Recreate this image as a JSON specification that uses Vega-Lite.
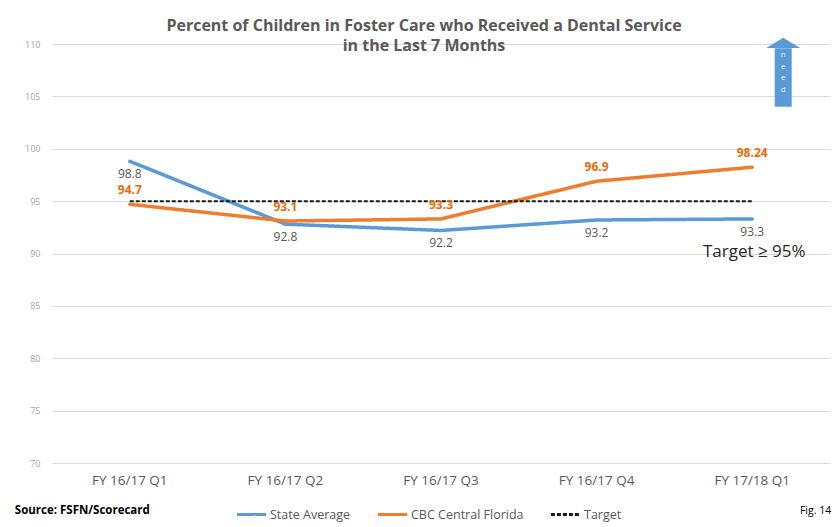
{
  "$schema": "https://vega.github.io/schema/vega-lite/v6.json",
  "width": 778,
  "height": 419,
  "autosize": {"type": "none"},
  "padding": {"left": 52, "top": 44, "right": 8, "bottom": 64},
  "background": "white",
  "config": {
    "font": "Open Sans",
    "view": {"stroke": null},
    "axis": {"labelFont": "Open Sans"},
    "legend": {"labelFont": "Open Sans"}
  },
  "title": {
    "text": ["Percent of Children in Foster Care who Received a Dental Service", "in the Last 7 Months"],
    "font": "Open Sans",
    "fontSize": 16,
    "fontWeight": "bold",
    "color": "#595959",
    "anchor": "middle",
    "frame": "group",
    "offset": -16,
    "lineHeight": 20,
    "dx": -17
  },
  "data": {
    "values": [
      {"q": "FY 16/17 Q1", "series": "State Average", "v": 98.8},
      {"q": "FY 16/17 Q2", "series": "State Average", "v": 92.8},
      {"q": "FY 16/17 Q3", "series": "State Average", "v": 92.2},
      {"q": "FY 16/17 Q4", "series": "State Average", "v": 93.2},
      {"q": "FY 17/18 Q1", "series": "State Average", "v": 93.3},
      {"q": "FY 16/17 Q1", "series": "CBC Central Florida", "v": 94.7},
      {"q": "FY 16/17 Q2", "series": "CBC Central Florida", "v": 93.1},
      {"q": "FY 16/17 Q3", "series": "CBC Central Florida", "v": 93.3},
      {"q": "FY 16/17 Q4", "series": "CBC Central Florida", "v": 96.9},
      {"q": "FY 17/18 Q1", "series": "CBC Central Florida", "v": 98.24},
      {"q": "FY 16/17 Q1", "series": "Target", "v": 95},
      {"q": "FY 16/17 Q2", "series": "Target", "v": 95},
      {"q": "FY 16/17 Q3", "series": "Target", "v": 95},
      {"q": "FY 16/17 Q4", "series": "Target", "v": 95},
      {"q": "FY 17/18 Q1", "series": "Target", "v": 95}
    ]
  },
  "encoding": {
    "x": {
      "field": "q",
      "type": "nominal",
      "sort": null,
      "title": null,
      "scale": {"paddingInner": 0, "paddingOuter": 0},
      "axis": {
        "labelAngle": 0,
        "labelFontSize": 13.5,
        "labelColor": "#595959",
        "labelPadding": 10,
        "ticks": false,
        "domain": false,
        "grid": false
      }
    },
    "y": {
      "field": "v",
      "type": "quantitative",
      "title": null,
      "scale": {"domain": [70, 110], "nice": false, "zero": false},
      "axis": {
        "values": [70, 75, 80, 85, 90, 95, 100, 105, 110],
        "labelFontSize": 9,
        "labelColor": "#A6A6A6",
        "labelPadding": 12,
        "ticks": false,
        "domain": false,
        "gridColor": "#D9D9D9",
        "gridWidth": 1
      }
    }
  },
  "layer": [
    {
      "transform": [{"filter": "datum.series !== 'Target'"}],
      "mark": {"type": "line", "strokeWidth": 3.5, "strokeCap": "round"},
      "encoding": {
        "color": {
          "field": "series",
          "type": "nominal",
          "title": null,
          "scale": {"domain": ["State Average", "CBC Central Florida", "Target"], "range": ["#5B9BD5", "#ED7D31", "#1a1a1a"]},
          "legend": {
            "orient": "none",
            "legendX": 183,
            "legendY": 454,
            "direction": "horizontal",
            "symbolType": "stroke",
            "symbolSize": 850,
            "symbolStrokeWidth": 3,
            "labelFontSize": 12.5,
            "labelColor": "#595959",
            "columnPadding": 20,
            "labelOffset": 2
          }
        },
        "strokeDash": {
          "field": "series",
          "type": "nominal",
          "title": null,
          "scale": {"domain": ["State Average", "CBC Central Florida", "Target"], "range": [[1, 0], [1, 0], [4, 2]]}
        }
      }
    },
    {
      "transform": [{"filter": "datum.series === 'Target'"}],
      "mark": {"type": "line", "strokeWidth": 2},
      "encoding": {
        "color": {"field": "series", "type": "nominal", "title": null},
        "strokeDash": {"field": "series", "type": "nominal", "title": null}
      }
    },
    {
      "transform": [{"filter": "datum.series === 'State Average'"}],
      "mark": {"type": "text", "fontSize": 12, "color": "#595959", "dy": 13},
      "encoding": {"text": {"field": "v", "type": "nominal"}}
    },
    {
      "transform": [{"filter": "datum.series === 'CBC Central Florida'"}],
      "mark": {"type": "text", "fontSize": 12, "fontWeight": "bold", "color": "#E46C0A", "dy": -14},
      "encoding": {"text": {"field": "v", "type": "nominal"}}
    },
    {
      "data": {"values": [{"q": "FY 17/18 Q1", "v": 90.15, "label": "Target ≥ 95%"}]},
      "mark": {"type": "text", "fontSize": 17, "color": "#262626", "dx": 2},
      "encoding": {"text": {"field": "label"}}
    },
    {
      "data": {"values": [{"q": "FY 16/17 Q1", "v": 65.4, "label": "Source: FSFN/Scorecard"}]},
      "mark": {"type": "text", "fontSize": 11.5, "fontWeight": "bold", "color": "#000000", "align": "left", "dx": -115},
      "encoding": {"text": {"field": "label"}}
    },
    {
      "data": {"values": [{"q": "FY 17/18 Q1", "v": 65.4, "label": "Fig. 14"}]},
      "mark": {"type": "text", "fontSize": 10.5, "color": "#000000", "align": "right", "dx": 79},
      "encoding": {"text": {"field": "label"}}
    },
    {
      "data": {"values": [{"q": "FY 17/18 Q1", "v": 104.0, "v2": 109.6}]},
      "mark": {"type": "rule", "color": "#5B9BD5", "strokeWidth": 17, "xOffset": 31},
      "encoding": {"y2": {"field": "v2"}}
    },
    {
      "data": {"values": [{"q": "FY 17/18 Q1", "v": 110.1}]},
      "mark": {"type": "point", "shape": "M-1,0.3L0,-0.3L1,0.3Z", "filled": true, "opacity": 1, "color": "#5B9BD5", "size": 1156, "xOffset": 31},
      "encoding": {}
    },
    {
      "data": {"values": [{"q": "FY 17/18 Q1", "v": 108.95, "label": "n\ne\ne\nd"}]},
      "mark": {"type": "text", "fontSize": 8, "color": "#EAF2FB", "lineBreak": "\n", "lineHeight": 11.7, "xOffset": 31},
      "encoding": {"text": {"field": "label"}}
    }
  ]
}
